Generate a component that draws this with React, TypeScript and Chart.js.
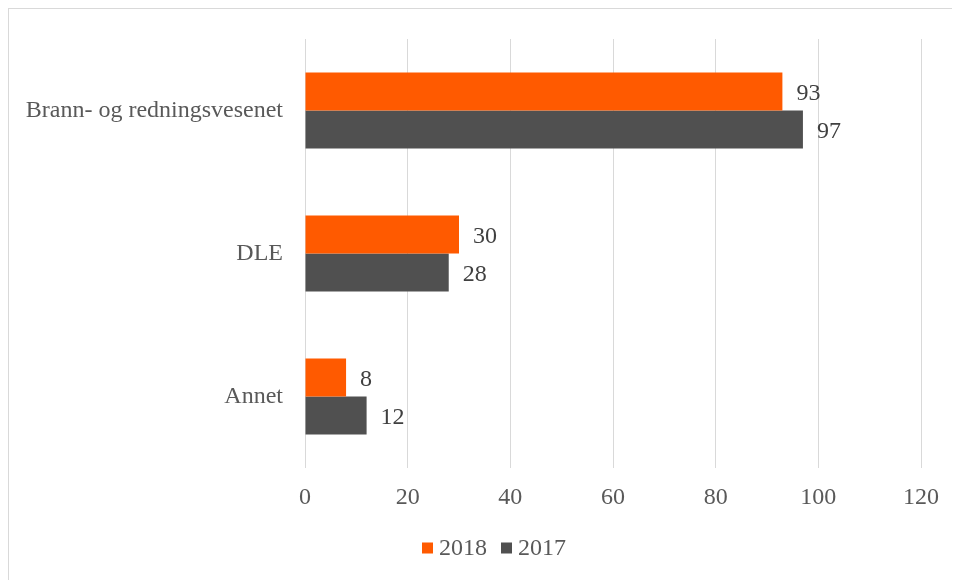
import React, { useEffect, useRef } from "react";
import { Chart, registerables } from "chart.js";

Chart.register(...registerables);

const categories = ["Brann- og redningsvesenet", "DLE", "Annet"];
const seriesNames = ["2018", "2017"];
const values2018 = [93, 30, 8];
const values2017 = [97, 28, 12];
const xTicks = [0, 20, 40, 60, 80, 100, 120];

const FONT = "'Liberation Serif', 'Times New Roman', serif";
const ORANGE = "#FF5A00";
const GRAY = "#505050";
const TEXT = "#595959";

const dataLabelPlugin = {
  id: "dataLabels",
  afterDatasetsDraw(chart: any) {
    const ctx = chart.ctx;
    ctx.save();
    ctx.font = `24px ${FONT}`;
    ctx.fillStyle = "#404040";
    ctx.textAlign = "left";
    ctx.textBaseline = "middle";
    chart.data.datasets.forEach((ds: any, i: number) => {
      const meta = chart.getDatasetMeta(i);
      meta.data.forEach((el: any, j: number) => {
        ctx.fillText(String(ds.data[j]), el.x + 14, el.y + 2);
      });
    });
    ctx.restore();
  },
};

const legendPlugin = {
  id: "customLegend",
  afterDraw(chart: any) {
    const ctx = chart.ctx;
    ctx.save();
    ctx.font = `24px ${FONT}`;
    const box = 11;
    const gap = 6;
    const itemGap = 14;
    const items = chart.data.datasets.map((ds: any) => ({
      label: ds.label,
      color: ds.backgroundColor,
      w: box + gap + ctx.measureText(ds.label).width,
    }));
    const total = items.reduce((s: number, it: any) => s + it.w, 0) + itemGap * (items.length - 1);
    let x = 485 - total / 2;
    const y = 539;
    items.forEach((it: any) => {
      ctx.fillStyle = it.color;
      ctx.fillRect(x, y - box / 2, box, box);
      ctx.fillStyle = TEXT;
      ctx.textAlign = "left";
      ctx.textBaseline = "middle";
      ctx.fillText(it.label, x + box + gap, y + 1);
      x += it.w + itemGap;
    });
    ctx.restore();
  },
};

export default function App() {
  const ref = useRef<HTMLCanvasElement>(null);
  useEffect(() => {
    if (!ref.current) return;
    const chart = new Chart(ref.current, {
      type: "bar",
      data: {
        labels: categories,
        datasets: [
          { label: seriesNames[0], data: values2018, backgroundColor: ORANGE, categoryPercentage: 0.53, barPercentage: 1.0 },
          { label: seriesNames[1], data: values2017, backgroundColor: GRAY, categoryPercentage: 0.53, barPercentage: 1.0 },
        ],
      },
      options: {
        indexAxis: "y",
        animation: false,
        responsive: false,
        maintainAspectRatio: false,
        layout: { padding: { top: 30, right: 39, bottom: 52, left: 0 } },
        plugins: {
          legend: { display: false },
          tooltip: { enabled: false },
        },
        scales: {
          x: {
            min: 0,
            max: 120,
            afterBuildTicks: (scale: any) => {
              scale.ticks = xTicks.map((v) => ({ value: v }));
            },
            afterFit: (scale: any) => {
              scale.height = 60;
            },
            grid: { color: "#D9D9D9", lineWidth: 1, drawTicks: false },
            border: { display: false },
            ticks: { color: TEXT, font: { family: FONT, size: 24 }, padding: 15 },
          },
          y: {
            afterFit: (scale: any) => {
              scale.width = 296;
              scale.paddingTop = 0;
              scale.paddingBottom = 0;
            },
            grid: { display: false, drawTicks: false },
            border: { display: false },
            ticks: { color: TEXT, font: { family: FONT, size: 24 }, padding: 22 },
          },
        },
      },
      plugins: [dataLabelPlugin, legendPlugin],
    });
    return () => chart.destroy();
  }, []);
  return (
    <div
      style={{
        width: 951,
        height: 571,
        borderLeft: "1px solid #D9D9D9",
        borderTop: "1px solid #D9D9D9",
        overflow: "hidden",
      }}
    >
      <canvas ref={ref} width={951} height={571} style={{ display: "block" }} />
    </div>
  );
}
